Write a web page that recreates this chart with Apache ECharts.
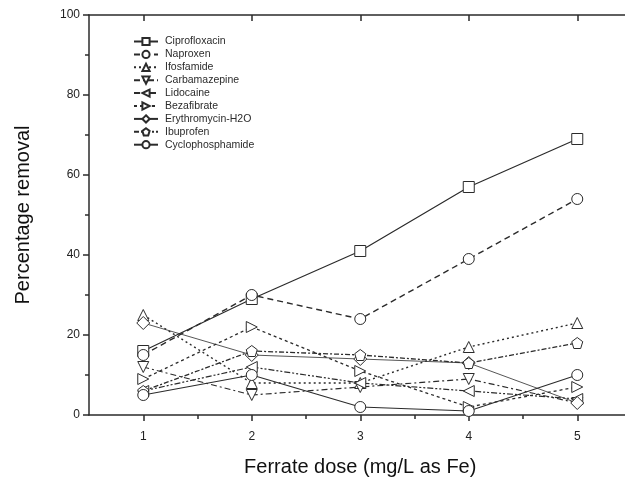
<!DOCTYPE html>
<html>
<head>
<meta charset="utf-8">
<script src="https://cdn.jsdelivr.net/npm/echarts@6/dist/echarts.min.js"></script>
<style>
  html, body { margin: 0; padding: 0; background: #fff; }
  #chart { width: 625px; height: 477px; }
</style>
</head>
<body>
<div id="chart"></div>
<script>
// ferrate dose (x) and removal (%) for each compound
const doses = [1, 2, 3, 4, 5]
const ciprofloxacin = [16, 29, 41, 57, 69]
const naproxen = [15, 30, 24, 39, 54]
const ifosfamide = [25, 8, 8, 17, 23]
const carbamazepine = [12, 5, 7, 9, 3]
const lidocaine = [6, 12, 8, 6, 4]
const bezafibrate = [9, 22, 11, 2, 7]
const erythromycin = [23, 15, 14, 13, 3]
const ibuprofen = [6, 16, 15, 13, 18]
const cyclophosphamide = [5, 10, 2, 1, 10]

const xMajorTicks = [1, 2, 3, 4, 5]
const xMinorTicks = [1.5, 2.5, 3.5, 4.5]

const INK = '#2b2b2b'
const FONT = 'Liberation Sans, Arial, sans-serif'

function pairs(vals) {
  return vals.map((v, i) => [doses[i], v])
}

// name, values, symbol, dash, width
const defs = [
  ['Ciprofloxacin', ciprofloxacin, 'rect', 'solid', 1.2],
  ['Naproxen', naproxen, 'circle', [6, 4], 1.4],
  ['Ifosfamide', ifosfamide, 'triangle', [2, 3], 1.4],
  ['Carbamazepine', carbamazepine, 'path://M0,0 L10,0 L5,9 Z', [6, 3, 2, 3], 1.2],
  ['Lidocaine', lidocaine, 'path://M9,0 L9,10 L0,5 Z', [6, 2, 2, 2, 2, 2], 1.2],
  ['Bezafibrate', bezafibrate, 'path://M0,0 L0,10 L9,5 Z', [3, 3], 1.3],
  ['Erythromycin-H2O', erythromycin, 'diamond', 'solid', 0.8],
  ['Ibuprofen', ibuprofen, 'path://M5,0 L10,3.8 L8.1,10 L1.9,10 L0,3.8 Z', [5, 2, 2, 2], 1.3],
  ['Cyclophosphamide', cyclophosphamide, 'circle', 'solid', 1.1]
]

const series = defs.map((d) => ({
  name: d[0],
  type: 'line',
  data: pairs(d[1]),
  symbol: d[2],
  symbolSize: d[2] === 'diamond' ? 13 : 11,
  showAllSymbol: true,
  lineStyle: { color: INK, width: d[4], type: d[3] },
  itemStyle: { color: '#fff', borderColor: INK, borderWidth: 1 },
  emphasis: { disabled: true },
  animation: false
}))

const chart = echarts.init(document.getElementById('chart'))

const option = {
  backgroundColor: '#fff',
  animation: false,
  grid: { left: 89, top: 15, right: -6.5, bottom: 62, outerBoundsMode: 'none' },
  legend: {
    orient: 'vertical',
    left: 128,
    top: 31,
    itemWidth: 24,
    itemHeight: 9,
    itemGap: 1.9,
    textStyle: { fontSize: 10.5, color: INK, fontFamily: FONT, padding: [0, 0, 0, 2] },
    data: defs.map((d) => d[0])
  },
  xAxis: [
    {
      type: 'value', position: 'bottom', min: 0.5, max: 5.5,
      name: 'Ferrate dose (mg/L as Fe)', nameLocation: 'middle', nameGap: 42,
      nameTextStyle: { fontSize: 20, color: '#111', fontFamily: FONT },
      axisLine: { show: true, onZero: false, lineStyle: { color: INK, width: 1.5 } },
      axisTick: { show: true, length: 6, customValues: xMajorTicks, lineStyle: { color: INK, width: 1.5 } },
      axisLabel: { customValues: xMajorTicks, fontSize: 12, color: '#222', fontFamily: FONT, margin: 16 },
      splitLine: { show: false }
    },
    {
      type: 'value', position: 'bottom', min: 0.5, max: 5.5,
      axisLine: { show: false },
      axisTick: { show: true, length: 4, customValues: xMinorTicks, lineStyle: { color: INK, width: 1.5 } },
      axisLabel: { show: false },
      splitLine: { show: false }
    },
    {
      type: 'value', position: 'top', min: 0.5, max: 5.5,
      axisLine: { show: true, onZero: false, lineStyle: { color: INK, width: 1.5 } },
      axisTick: { show: true, inside: true, length: 6, customValues: xMajorTicks, lineStyle: { color: INK, width: 1.5 } },
      axisLabel: { show: false },
      splitLine: { show: false }
    },
    {
      type: 'value', position: 'top', min: 0.5, max: 5.5,
      axisLine: { show: false },
      axisTick: { show: true, inside: true, length: 4, customValues: xMinorTicks, lineStyle: { color: INK, width: 1.5 } },
      axisLabel: { show: false },
      splitLine: { show: false }
    }
  ],
  yAxis: [
    {
      type: 'value', position: 'left', min: 0, max: 100, interval: 20,
      name: 'Percentage removal', nameLocation: 'middle', nameGap: 56,
      nameTextStyle: { fontSize: 20, color: '#111', fontFamily: FONT },
      axisLine: { show: true, onZero: false, lineStyle: { color: INK, width: 1.5 } },
      axisTick: { show: true, length: 6, lineStyle: { color: INK, width: 1.5 } },
      minorTick: { show: true, splitNumber: 2, length: 4, lineStyle: { color: INK, width: 1.5 } },
      axisLabel: { fontSize: 12, color: '#222', fontFamily: FONT, margin: 9 },
      splitLine: { show: false }
    },
    {
      type: 'value', position: 'right', min: 0, max: 100, interval: 20,
      axisLine: { show: false },
      axisTick: { show: false },
      axisLabel: { show: false },
      splitLine: { show: false }
    }
  ],
  series: series
}

option && chart.setOption(option)
</script>
</body>
</html>
